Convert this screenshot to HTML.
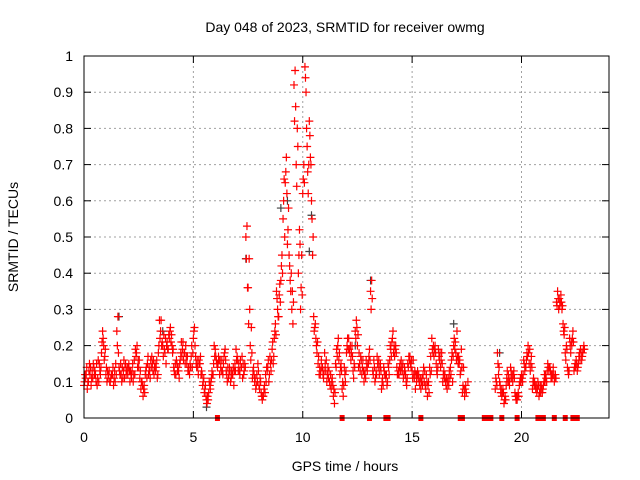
<!DOCTYPE html>
<html><head><meta charset="utf-8"><style>
body{margin:0;background:#fff;}
svg{display:block;font-family:"Liberation Sans",sans-serif;}
</style></head><body>
<svg id="chart" width="640" height="480" xmlns="http://www.w3.org/2000/svg">
<rect width="640" height="480" fill="#fff"/>
<text x="345" y="32" text-anchor="middle" font-size="14">Day 048 of 2023, SRMTID for receiver owmg</text>
<text x="345" y="471" text-anchor="middle" font-size="14">GPS time / hours</text>
<text x="18" y="237" text-anchor="middle" font-size="14" transform="rotate(-90 18 237)">SRMTID / TECUs</text>
<g id="grid"></g>
<g id="axes"></g>
<g id="marks"></g>
<rect x="84" y="56" width="525" height="362" fill="none" stroke="#000" stroke-width="1"/>
</svg>
<script>
const xTicks=[0,5,10,15,20];
const yTicks=[0,0.1,0.2,0.3,0.4,0.5,0.6,0.7,0.8,0.9,1];
const yTickLabels=["0","0.1","0.2","0.3","0.4","0.5","0.6","0.7","0.8","0.9","1"];
const segStarts=[0,18.8,20.0,21.0,21.6];
const segStep=0.1;
const segA=[
[.09,.12,.10,.14,.11,.13,.09,.15,.18,.20,.12,.11,.10,.12,.13,.24,.14,.12,.13,.15,.12,.10,.13,.16,.18,.14,.08,.06,.12,.15,.13,.17,.12,.14,.18,.24,.20,.18,.21,.22,.23,.14,.12,.14,.16,.19,.18,.15,.13,.17,.22,.17,.14,.15,.12,.07,.05,.07,.10,.12,.19,.14,.12,.16,.17,.13,.11,.10,.12,.15,.17,.13,.14,.12,.50,.36,.20,.11,.10,.12,.09,.07,.06,.12,.14,.17,.19,.22,.35,.28,.38,.55,.65,.48,.42,.30,.92,.70,.40,.30,.62,.97,.75,.82,.60,.28,.22,.15,.12,.14,.18,.10,.13,.08,.06,.15,.20,.12,.08,.14,.18,.22,.16,.13,.24,.20,.15,.12,.10,.16,.15,.35,.13,.10,.17,.12,.08,.14,.11,.15,.20,.22,.17,.14,.12,.16,.11,.12,.15,.17,.13,.11,.10,.12,.08,.12,.09,.06,.14,.22,.17,.15,.19,.14,.10,.12,.08,.13,.16,.20,.18,.15,.12,.07,.06],
[.08,.18,.10,.06,.04,.09,.12,.14,.10,.07,.05,.09],
[.12,.16,.14,.20,.13,.08,.10,.07,.06,.09],
[.09,.12,.15,.14,.11,.10],
[.32,.30,.34,.26,.18,.14,.22,.20,.13,.16,.15,.19,.18]
];
const segB=[
[.12,.08,.15,.11,.14,.10,.16,.12,.24,.17,.10,.13,.12,.09,.15,.28,.12,.14,.11,.13,.15,.12,.10,.19,.14,.11,.10,.09,.14,.12,.16,.13,.15,.11,.27,.20,.23,.15,.19,.25,.18,.12,.15,.11,.21,.16,.20,.13,.15,.14,.25,.14,.16,.12,.10,.09,.06,.09,.13,.20,.16,.17,.14,.12,.19,.10,.14,.13,.09,.19,.13,.16,.11,.15,.53,.44,.25,.14,.08,.15,.11,.05,.09,.14,.10,.13,.15,.26,.30,.37,.45,.66,.72,.58,.35,.26,.96,.80,.52,.45,.70,.90,.62,.72,.45,.25,.18,.12,.16,.11,.13,.14,.09,.11,.04,.19,.16,.15,.06,.10,.22,.18,.20,.15,.27,.14,.17,.16,.13,.13,.19,.38,.16,.13,.14,.15,.11,.12,.09,.12,.17,.18,.20,.12,.15,.13,.14,.09,.17,.14,.16,.08,.13,.09,.11,.10,.12,.10,.17,.18,.20,.12,.16,.18,.13,.09,.11,.14,.10,.19,.24,.15,.19,.14,.09,.10],
[.10,.12,.07,.08,.06,.13,.09,.11,.13,.05,.07,.11],
[.10,.13,.18,.15,.17,.11,.08,.10,.09,.07],
[.12,.10,.13,.11,.14,.12],
[.35,.31,.30,.23,.20,.12,.18,.24,.15,.13,.18,.16,.20]
];
const segC=[
[.10,.14,.13,.09,.15,.12,.11,.13,.21,.16,.14,.12,.11,.14,.10,.20,.13,.10,.16,.12,.14,.13,.15,.12,.20,.16,.10,.08,.13,.17,.11,.15,.14,.16,.20,.27,.17,.22,.19,.24,.20,.13,.16,.13,.18,.21,.15,.17,.12,.20,.24,.15,.12,.17,.09,.08,.04,.10,.11,.15,.17,.15,.16,.13,.18,.12,.12,.11,.14,.13,.16,.12,.17,.13,.44,.26,.16,.13,.11,.10,.08,.06,.08,.10,.16,.15,.21,.24,.33,.34,.42,.60,.68,.52,.38,.35,.82,.64,.45,.36,.66,.94,.68,.78,.55,.24,.20,.17,.13,.12,.15,.12,.10,.10,.08,.14,.22,.14,.10,.12,.20,.19,.18,.11,.22,.23,.13,.14,.12,.14,.17,.30,.12,.11,.15,.14,.10,.13,.12,.14,.19,.24,.19,.12,.14,.14,.12,.10,.14,.15,.11,.13,.12,.10,.10,.14,.08,.09,.12,.19,.19,.13,.17,.16,.12,.10,.10,.11,.18,.22,.16,.17,.13,.09,.08],
[.11,.15,.09,.07,.05,.11,.10,.13,.12,.06,.06,.10],
[.11,.15,.16,.18,.15,.10,.09,.08,.07,.08],
[.10,.11,.14,.13,.12,.11],
[.31,.33,.32,.24,.16,.13,.20,.22,.14,.15,.17,.18,.19]
];
const segD=[
[.11,.10,.12,.13,.12,.15,.10,.14,.22,.19,.13,.10,.12,.11,.12,.18,.15,.11,.14,.14,.13,.11,.12,.17,.16,.13,.09,.07,.11,.14,.14,.16,.13,.12,.22,.21,.19,.20,.23,.21,.19,.15,.13,.15,.17,.18,.17,.14,.14,.18,.20,.16,.15,.13,.11,.06,.05,.08,.12,.17,.15,.16,.13,.15,.16,.14,.13,.12,.13,.16,.15,.14,.15,.14,.36,.30,.18,.12,.09,.13,.10,.06,.07,.13,.12,.16,.17,.23,.28,.32,.40,.50,.62,.45,.40,.32,.86,.75,.48,.34,.65,.80,.70,.70,.50,.26,.21,.14,.14,.13,.16,.11,.12,.09,.07,.17,.18,.13,.09,.13,.19,.20,.17,.14,.25,.18,.16,.13,.11,.15,.16,.33,.14,.12,.16,.13,.09,.12,.10,.16,.21,.20,.18,.13,.13,.15,.13,.11,.16,.16,.12,.12,.11,.11,.09,.13,.10,.07,.13,.20,.18,.14,.18,.15,.11,.11,.09,.12,.17,.21,.17,.16,.14,.08,.07],
[.09,.14,.08,.07,.05,.10,.11,.12,.11,.06,.06,.10],
[.12,.14,.17,.19,.14,.09,.09,.09,.07,.08],
[.10,.13,.14,.12,.12,.11],
[.33,.32,.31,.25,.19,.13,.21,.21,.14,.14,.16,.17,.19]
];
const zeroTimes=[6.1,11.8,13.05,13.8,13.9,15.4,17.2,17.3,18.3,18.45,18.6,19.1,19.8,20.75,20.85,21.0,21.5,22.0,22.35,22.55];
const greyT=[1.6,7.4,9.0,10.4,13.1,5.6,19.0,16.9,9.3,10.3,3.6,12.4];
const greyV=[0.28,0.44,0.58,0.56,0.38,0.03,0.18,0.26,0.60,0.46,0.24,0.20];

const X0=84,X1=609,Y0=418,Y1=56,XMAX=24;
const sx=t=>X0+t*(X1-X0)/XMAX;
const sy=v=>Y0-v*(Y0-Y1);
const NS="http://www.w3.org/2000/svg";
const grid=document.getElementById('grid'),axes=document.getElementById('axes'),marks=document.getElementById('marks');
function mk(tag,attrs,parent){const e=document.createElementNS(NS,tag);for(const k in attrs)e.setAttribute(k,attrs[k]);parent.appendChild(e);return e;}
yTicks.forEach((v,i)=>{
  const y=sy(v);
  if(i>0&&i<yTicks.length-1){const g=mk('line',{x1:X0,x2:X1,y1:y,y2:y,stroke:'#a0a0a0','stroke-dasharray':'2,3'},grid);
  
  }
  const t1=mk('line',{x1:X0,x2:X0+7,y1:y,y2:y,stroke:'#000'},axes);
  
  
  const t2=mk('line',{x1:X1-7,x2:X1,y1:y,y2:y,stroke:'#000'},axes);
  
  
  const l=mk('text',{x:X0-11,y:y+5,'text-anchor':'end','font-size':'14'},axes);l.textContent=yTickLabels[i];
  
  
});
xTicks.forEach(t=>{
  const x=sx(t);
  if(t>0){const g=mk('line',{x1:x,x2:x,y1:Y1,y2:Y0,stroke:'#a0a0a0','stroke-dasharray':'2,3'},grid);
  
  }
  const t1=mk('line',{x1:x,x2:x,y1:Y0,y2:Y0-7,stroke:'#000'},axes);
  
  
  const t2=mk('line',{x1:x,x2:x,y1:Y1,y2:Y1+7,stroke:'#000'},axes);
  
  
  const l=mk('text',{x:x,y:Y0+24,'text-anchor':'middle','font-size':'14'},axes);l.textContent=String(t);
  
  
});
function plus(t,v,col,name){
  const x=sx(t),y=sy(v);
  const p=mk('path',{d:`M${x-4},${y}H${x+4}M${x},${y-4}V${y+4}`,stroke:col,'stroke-width':'1.2',fill:'none'},marks);
  
  
}
greyT.forEach((t,i)=>plus(t,greyV[i],'#404040','grey-point'));
const series=[segA,segC,segB,segD];
series.forEach((seg,k)=>{
  segStarts.forEach((s,si)=>{
    seg[si].forEach((v,i)=>{const t=s+i*segStep+k*0.025;plus(t,v,'#ff0000','red-point');});
  });
});
zeroTimes.forEach(t=>{
  const r=mk('rect',{x:sx(t)-2.5,y:Y0-3,width:5,height:6,fill:'#ff0000'},marks);
  
  
});
</script>
</body></html>
